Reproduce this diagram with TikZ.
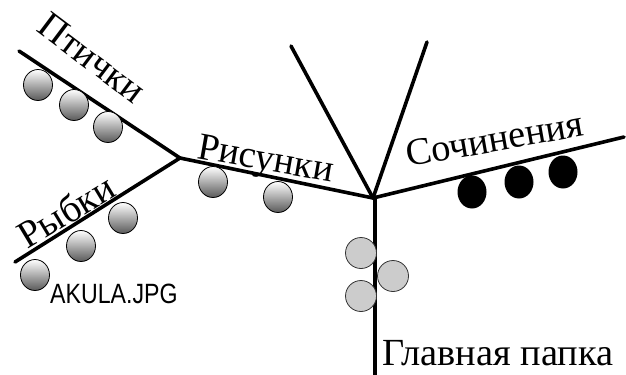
\documentclass[tikz,border=0pt]{standalone}
\usepackage{fontspec}
\setmainfont{Liberation Serif}
\newfontfamily\akulafont{Liberation Sans}
\usetikzlibrary{shapes.geometric}
\begin{document}
\begin{tikzpicture}[x=1bp,y=-1bp,
  branch/.style={line width=3.6bp, line cap=round},
  shadeball/.style={ellipse, minimum width=29bp, minimum height=31bp, inner sep=0pt, draw=black, line width=0.8bp, top color=white, bottom color=black!65, shading angle=0},
  grayball/.style={circle, minimum size=31bp, inner sep=0pt, draw=black!80, line width=0.8bp, fill=black!20},
  blackball/.style={ellipse, minimum width=29bp, minimum height=33bp, inner sep=0pt, fill=black},
  lbl/.style={font=\fontsize{38.5}{40}\selectfont, inner sep=0pt}
]
\useasboundingbox (0,0) rectangle (626,374);
\fill[white] (0,0) rectangle (626,374);
% junctions and ends
\coordinate (J) at (373,198);
\coordinate (J2) at (180,158);
\coordinate (bottom) at (375,376);
\coordinate (upl) at (291,46);
\coordinate (upr) at (427,42);
\coordinate (sochEnd) at (624,137);
\coordinate (ptEnd) at (19,51);
\coordinate (ryEnd) at (15,262);
% branches
\draw[branch] (J) -- (upl);
\draw[branch] (J) -- (upr);
\draw[branch] (J) -- (sochEnd);
\draw[branch] (J) -- (J2);
\draw[branch] (J2) -- (ptEnd);
\draw[branch] (J2) -- (ryEnd);
\draw[line width=3.6bp] (375,198) -- (bottom);
% balls
\node[shadeball] (p1) at (38,85) {};
\node[shadeball] (p2) at (74,105) {};
\node[shadeball] (p3) at (108,127) {};
\node[shadeball] (r1) at (35,275) {};
\node[shadeball] (r2) at (81,246) {};
\node[shadeball] (r3) at (123,218) {};
\node[shadeball] (s1) at (213,182) {};
\node[shadeball] (s2) at (278,197) {};
\node[grayball] (g1) at (361,253) {};
\node[grayball] (g2) at (393,276) {};
\node[grayball] (g3) at (361,296) {};
\node[blackball] (b1) at (472,192) {};
\node[blackball] (b2) at (519,182) {};
\node[blackball] (b3) at (563,172) {};
% labels
\node[lbl, rotate=-37] (tPt) at (92,58) {Птички};
\node[lbl, rotate=31] (tRy) at (66,211) {Рыбки};
\node[lbl, rotate=-10, anchor=base west] (tRi) at (196,158) {Рисунки};
\node[lbl, rotate=10, anchor=base west] (tSo) at (408,167) {Сочинения};
\node[lbl, anchor=base west] (tGl) at (382,365) {Главная папка};
\node[font=\akulafont\fontsize{28}{30}\selectfont, xscale=0.83, inner sep=0pt, anchor=base west] (tAk) at (50,303) {AKULA.JPG};
\end{tikzpicture}
\end{document}
